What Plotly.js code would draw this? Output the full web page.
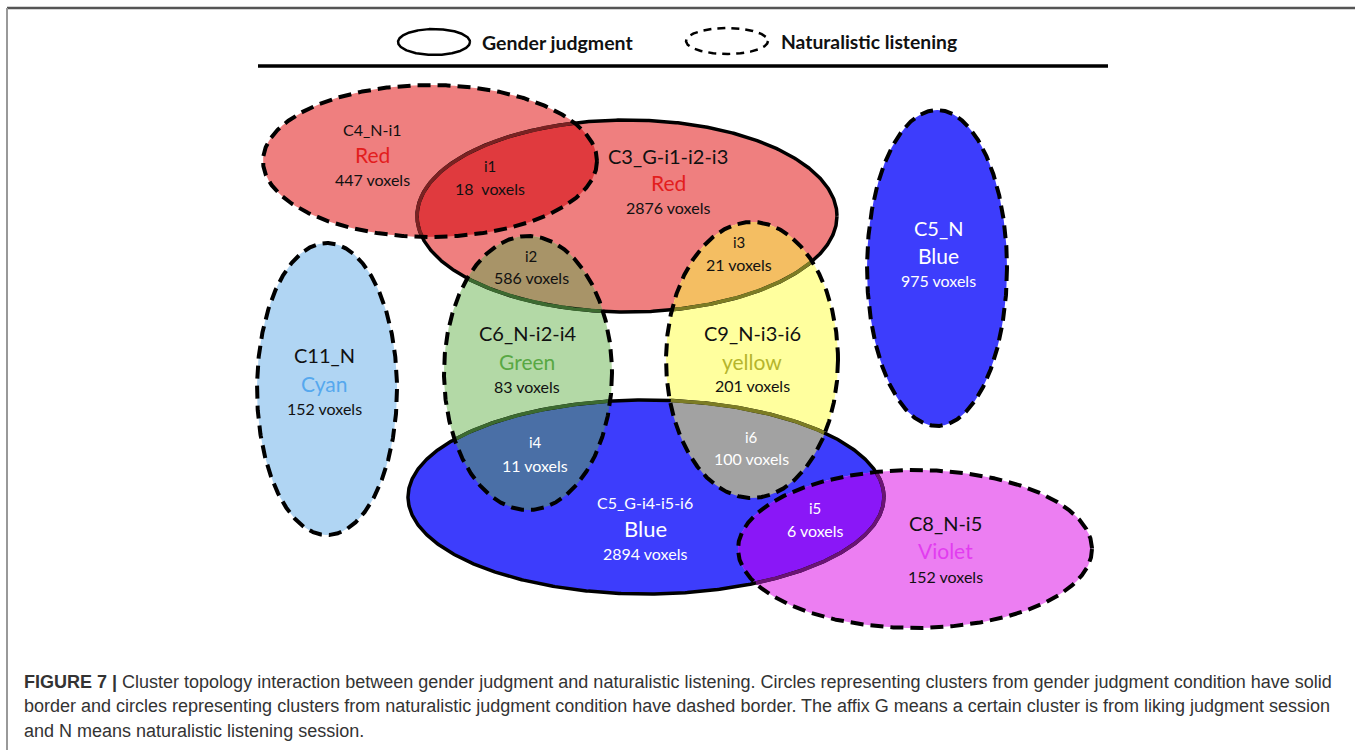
<!DOCTYPE html>
<html><head><meta charset="utf-8">
<script src="https://cdn.plot.ly/plotly-3.0.1.min.js"></script>
<style>html,body{margin:0;padding:0;background:#fff}#chart{width:1355px;height:750px}</style>
</head><body><div id="chart"></div>
<script>
// ---------- data ----------
const clusterIds    = ['C4', 'C3', 'C11', 'C6', 'C9', 'C5N', 'C5G', 'C8'];
const clusterNames  = ['C4_N-i1', 'C3_G-i1-i2-i3', 'C11_N', 'C6_N-i2-i4', 'C9_N-i3-i6', 'C5_N', 'C5_G-i4-i5-i6', 'C8_N-i5'];
const colourWords   = ['Red', 'Red', 'Cyan', 'Green', 'yellow', 'Blue', 'Blue', 'Violet'];
const clusterVoxels = [447, 2876, 152, 83, 201, 975, 2894, 152];
const sessions      = ['N', 'G', 'N', 'N', 'N', 'N', 'G', 'N'];

const interNames  = ['i1', 'i2', 'i3', 'i4', 'i6', 'i5'];
const interPairs  = [['C4','C3'], ['C6','C3'], ['C9','C3'], ['C6','C5G'], ['C9','C5G'], ['C8','C5G']];
const interVoxels = [18, 586, 21, 11, 100, 6];
const interVoxelLabels = ['18  voxels', '586 voxels', '21 voxels', '11 voxels', '100 voxels', '6 voxels'];

const legendLabels = ['Gender judgment', 'Naturalistic listening'];

// ---------- geometry (pixel layout of the diagram) ----------
const ellCx = [430, 627, 327, 528, 752, 937, 646, 915];
const ellCy = [161, 216, 389, 373, 360, 268, 497, 549];
const ellRx = [167, 210,  70,  84,  86,  70, 238, 177];
const ellRy = [ 76,  96, 146, 137, 138, 158,  97,  79];

// ---------- styles ----------
const fillCol = {C4:'#ef7f7f', C3:'#ef7f7f', C11:'#b0d5f3', C6:'#b3d9a6', C9:'#ffff9e', C5N:'#3d3dfc', C5G:'#3d3dfc', C8:'#ec7ef2'};
const wordCol = {C4:'#e31d1d', C3:'#e31d1d', C11:'#55a8ee', C6:'#58a843', C9:'#b5b52c', C5N:'#ffffff', C5G:'#ffffff', C8:'#e23cf0'};
const textCol = {C4:'#111', C3:'#111', C11:'#111', C6:'#111', C9:'#111', C5N:'#ffffff', C5G:'#ffffff', C8:'#111'};
const interFill = ['#e03a3e', '#a89468', '#f4be62', '#4a6fa6', '#a2a2a2', '#8a17f7'];
const interText = ['#111', '#111', '#111', '#ffffff', '#ffffff', '#ffffff'];
const tintCol = {C4:'#7a2222', C6:'#3c6a30', C9:'#7c7c24', C8:'#6a1474'};

const labelX = {C4:372, C3:668, C11:324, C6:527, C9:752, C5N:938, C5G:645, C8:945};
const labelY = {C4:[129,154,179], C3:[156,182,207], C11:[355,383,408], C6:[333,361,386], C9:[333,361,385], C5N:[228,255,280], C5G:[502,528,553], C8:[523,550,576]};
const labelSz = {C4:[16,21,16], C3:[20,21,16], C11:[20,21,16], C6:[20,21,16], C9:[20,21,16], C5N:[20,21,16], C5G:[16,22,16], C8:[20,21,16]};
const interLX = [490, 531, 739, 535, 751, 815];
const interLY = [[166,188],[256,277],[242,264],[442,465],[437,458],[508,530]];

const FONT = 'Lato, "Open Sans", sans-serif';

// ---------- helpers ----------
function E(id){ const k = clusterIds.indexOf(id); return {cx:ellCx[k], cy:ellCy[k], rx:ellRx[k], ry:ellRy[k]}; }
function ellPts(e, n){ n = n||720; const xs=[], ys=[]; for(let i=0;i<=n;i++){ const t=2*Math.PI*i/n; xs.push(e.cx+e.rx*Math.cos(t)); ys.push(e.cy+e.ry*Math.sin(t)); } return {xs, ys}; }
function inside(e, x, y){ const a=(x-e.cx)/e.rx, b=(y-e.cy)/e.ry; return a*a+b*b <= 1.0000001; }
function intersect(a, b){
  const pa = ellPts(a, 1440), pb = ellPts(b, 1440), P=[];
  for(let i=0;i<pa.xs.length-1;i++) if(inside(b,pa.xs[i],pa.ys[i])) P.push([pa.xs[i],pa.ys[i]]);
  for(let i=0;i<pb.xs.length-1;i++) if(inside(a,pb.xs[i],pb.ys[i])) P.push([pb.xs[i],pb.ys[i]]);
  let mx=0,my=0; P.forEach(p=>{mx+=p[0];my+=p[1];}); mx/=P.length; my/=P.length;
  P.sort((p,q)=>Math.atan2(p[1]-my,p[0]-mx)-Math.atan2(q[1]-my,q[0]-mx));
  P.push(P[0]);
  return {xs:P.map(p=>p[0]), ys:P.map(p=>p[1])};
}

const traces = [];
// single fills
clusterIds.forEach(id=>{
  const p = ellPts(E(id));
  traces.push({type:'scatter', mode:'lines', x:p.xs, y:p.ys, fill:'toself', fillcolor:fillCol[id], line:{width:0, color:fillCol[id]}, hoverinfo:'skip'});
});
// intersection fills
interPairs.forEach((pr,k)=>{
  const p = intersect(E(pr[0]), E(pr[1]));
  traces.push({type:'scatter', mode:'lines', x:p.xs, y:p.ys, fill:'toself', fillcolor:interFill[k], line:{width:0, color:interFill[k]}, hoverinfo:'skip'});
});
// solid outlines (gender judgment)
clusterIds.forEach((id,k)=>{
  if(sessions[k]!=='G') return;
  const p = ellPts(E(id));
  traces.push({type:'scatter', mode:'lines', x:p.xs, y:p.ys, line:{width:3.5, color:'#000'}, hoverinfo:'skip'});
  // tinted segments seen through translucent dashed clusters
  Object.keys(tintCol).forEach(d=>{
    const de = E(d), xs=[], ys=[]; let any=false;
    for(let i=0;i<p.xs.length;i++){
      if(inside(de,p.xs[i],p.ys[i])){ xs.push(p.xs[i]); ys.push(p.ys[i]); any=true; }
      else if(xs.length && xs[xs.length-1]!==null){ xs.push(null); ys.push(null); }
    }
    if(any) traces.push({type:'scatter', mode:'lines', x:xs, y:ys, line:{width:3.6, color:tintCol[d]}, connectgaps:false, hoverinfo:'skip'});
  });
});
// dashed outlines (naturalistic listening)
clusterIds.forEach((id,k)=>{
  if(sessions[k]!=='N') return;
  const p = ellPts(E(id));
  traces.push({type:'scatter', mode:'lines', x:p.xs, y:p.ys, line:{width:4, color:'#000', dash:'13px,7px'}, hoverinfo:'skip'});
});
// legend symbols
const legSolid = {cx:434, cy:42, rx:36, ry:13};
const legDash  = {cx:727, cy:41, rx:41, ry:13};
let lp = ellPts(legSolid);
traces.push({type:'scatter', mode:'lines', x:lp.xs, y:lp.ys, line:{width:2.5, color:'#000'}, hoverinfo:'skip'});
lp = ellPts(legDash);
traces.push({type:'scatter', mode:'lines', x:lp.xs, y:lp.ys, line:{width:2.5, color:'#000', dash:'8px,6px'}, hoverinfo:'skip'});

// ---------- annotations ----------
const ann = [];
function txt(x,y,s,size,color,extra){ ann.push(Object.assign({x, y, xref:'x', yref:'y', text:s, showarrow:false, xanchor:'center', yanchor:'middle', font:{family:FONT, size, color}}, extra||{})); }
clusterIds.forEach((id,k)=>{
  const ly = labelY[id], sz = labelSz[id];
  txt(labelX[id], ly[0], clusterNames[k], sz[0], textCol[id]);
  txt(labelX[id], ly[1], colourWords[k], sz[1], wordCol[id]);
  txt(labelX[id], ly[2], clusterVoxels[k] + ' voxels', sz[2], textCol[id]);
});
interNames.forEach((nm,k)=>{
  txt(interLX[k], interLY[k][0], nm, 15, interText[k]);
  txt(interLX[k], interLY[k][1], interVoxelLabels[k], 16, interText[k]);
});
txt(480, 42, '<b>' + legendLabels[0] + '</b>', 19.5, '#111', {xanchor:'left'});
txt(779, 41, '<b>' + legendLabels[1] + '</b>', 19.3, '#111', {xanchor:'left'});

const CAP = '"Liberation Sans", Arial, sans-serif';
const capLines = [
  '<b>FIGURE 7 |</b> Cluster topology interaction between gender judgment and naturalistic listening. Circles representing clusters from gender judgment condition have solid',
  'border and circles representing clusters from naturalistic judgment condition have dashed border. The affix G means a certain cluster is from liking judgment session',
  'and N means naturalistic listening session.'
];
const capY = [682, 706, 731];
capLines.forEach((s,i)=>ann.push({x:22, y:capY[i], xref:'x', yref:'y', text:s, showarrow:false, xanchor:'left', yanchor:'middle', font:{family:CAP, size:18, color:'#333'}}));

const layout = {
  width:1355, height:750, margin:{l:0,r:0,t:0,b:0},
  paper_bgcolor:'#fff', plot_bgcolor:'#fff', showlegend:false,
  xaxis:{range:[0,1355], visible:false, fixedrange:true},
  yaxis:{range:[750,0], visible:false, fixedrange:true},
  annotations: ann,
  shapes:[
    {type:'line', xref:'x', yref:'y', x0:7, x1:1355, y0:8, y1:8, line:{color:'#555', width:2.5}},
    {type:'line', xref:'x', yref:'y', x0:7, x1:7, y0:8, y1:750, line:{color:'#999', width:2}},
    {type:'line', xref:'x', yref:'y', x0:258, x1:1108, y0:66, y1:66, line:{color:'#000', width:3.5}}
  ]
};
Plotly.newPlot('chart', traces, layout, {displayModeBar:false, staticPlot:true});
</script></body></html>
